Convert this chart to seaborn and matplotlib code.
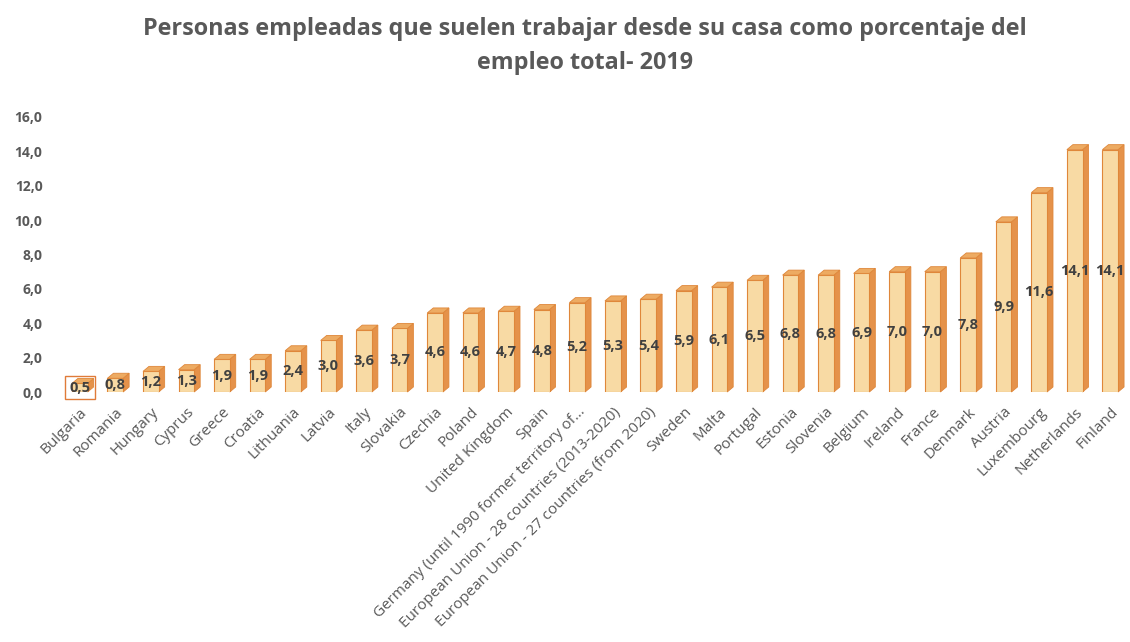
import matplotlib
matplotlib.use("Agg")
import matplotlib.pyplot as plt
from matplotlib.patches import Polygon
import seaborn as sns
import pandas as pd

categories = [
    "Bulgaria", "Romania", "Hungary", "Cyprus", "Greece", "Croatia", "Lithuania",
    "Latvia", "Italy", "Slovakia", "Czechia", "Poland", "United Kingdom", "Spain",
    "Germany (until 1990 former territory of...",
    "European Union - 28 countries (2013-2020)",
    "European Union - 27 countries (from 2020)",
    "Sweden", "Malta", "Portugal", "Estonia", "Slovenia", "Belgium", "Ireland",
    "France", "Denmark", "Austria", "Luxembourg", "Netherlands", "Finland",
]
values = [0.5, 0.8, 1.2, 1.3, 1.9, 1.9, 2.4, 3.0, 3.6, 3.7, 4.6, 4.6, 4.7, 4.8,
          5.2, 5.3, 5.4, 5.9, 6.1, 6.5, 6.8, 6.8, 6.9, 7.0, 7.0, 7.8, 9.9, 11.6,
          14.1, 14.1]
y_ticks = [0, 2, 4, 6, 8, 10, 12, 14, 16]
title = ("Personas empleadas que suelen trabajar desde su casa como porcentaje del\n"
         "empleo total- 2019")

FRONT = "#f8daa4"
SIDE = "#e5924a"
TOP = "#edab62"
EDGE = "#df873a"
TEXT = "#595959"
LABEL = "#404040"

sns.set_theme(style="white")
plt.rcParams["font.family"] = ["Open Sans", "DejaVu Sans"]

df = pd.DataFrame({"pais": categories, "valor": values})

fig = plt.figure(figsize=(11.3, 6.42), dpi=100)
ax = fig.add_axes([62 / 1130, 1 - 392 / 642, 1066 / 1130, 275 / 642])

sns.barplot(data=df, x="pais", y="valor", color=FRONT, saturation=1,
            width=0.44, edgecolor=EDGE, linewidth=0.8, ax=ax, zorder=3)

ax.set_xlim(-0.5, len(categories) - 0.5)
ax.set_ylim(0, 16)
ax.set_yticks(y_ticks)
ax.set_yticklabels([f"{t:.1f}".replace(".", ",") for t in y_ticks],
                   fontsize=10, fontweight="bold", color=TEXT)
ax.tick_params(axis="y", length=0, pad=14)
ax.tick_params(axis="x", length=0, pad=9)
ax.set_xticks(range(len(categories)))
ax.set_xticklabels(categories, rotation=45, ha="right", rotation_mode="anchor",
                   fontsize=11, color=TEXT)
ax.set_xlabel("")
ax.set_ylabel("")
for s in ax.spines.values():
    s.set_visible(False)

# pixel depth of the extruded side/top faces, converted to data units
fig.canvas.draw()
p0 = ax.transData.transform((0, 0))
p1 = ax.transData.transform((1, 1))
dx = 6 / (p1[0] - p0[0])
dy = 5 / (p1[1] - p0[1])

bars = list(ax.patches[:len(values)])
for bar in bars:
    x0 = bar.get_x()
    w = bar.get_width()
    h = bar.get_height()
    side = Polygon([(x0 + w, 0), (x0 + w + dx, dy), (x0 + w + dx, h + dy), (x0 + w, h)],
                   closed=True, facecolor=SIDE, edgecolor=EDGE, linewidth=0.6,
                   zorder=2.9, clip_on=False)
    top = Polygon([(x0, h), (x0 + dx, h + dy), (x0 + w + dx, h + dy), (x0 + w, h)],
                  closed=True, facecolor=TOP, edgecolor=EDGE, linewidth=0.6,
                  zorder=3.1, clip_on=False)
    ax.add_patch(side)
    ax.add_patch(top)

for i, (bar, v) in enumerate(zip(bars, values)):
    cx = bar.get_x() + bar.get_width() / 2
    kw = {}
    if i == 0:
        kw["bbox"] = dict(boxstyle="square,pad=0.3", facecolor="none",
                          edgecolor="#e07b39", linewidth=1)
    ax.text(cx, v / 2, f"{v:.1f}".replace(".", ","), ha="center", va="center",
            fontsize=10.5, fontweight="bold", color=LABEL, zorder=5, **kw)

fig.text(0.518, 0.973, title, ha="center", va="top", fontsize=16.8,
         fontweight="bold", color=TEXT, linespacing=1.55)

fig.savefig("out.png", dpi=100, facecolor="white")
